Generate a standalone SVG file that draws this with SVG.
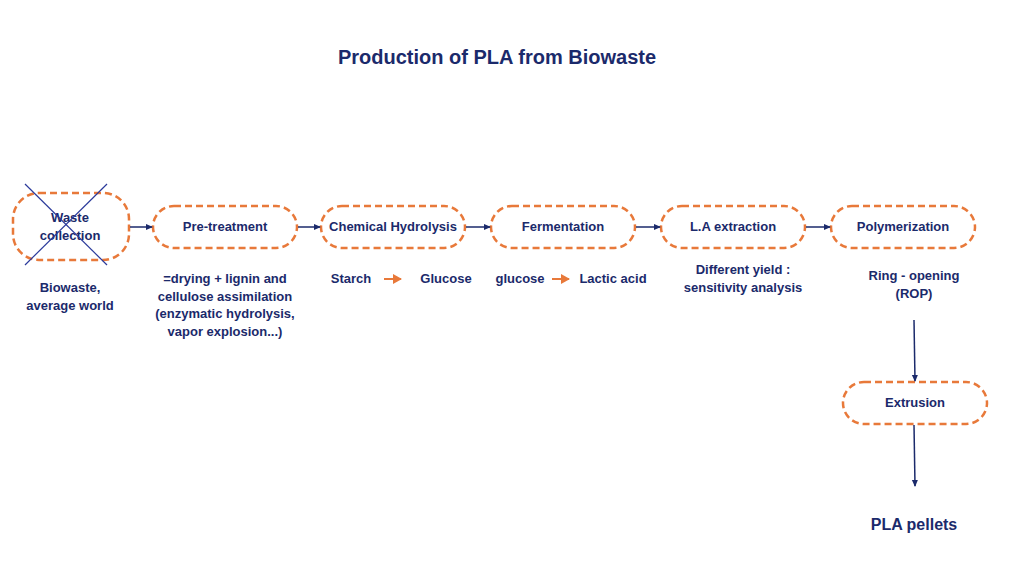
<svg xmlns="http://www.w3.org/2000/svg" width="1024" height="576" viewBox="0 0 1024 576">
<style>
.n{fill:none;stroke:#E8793A;stroke-width:2.5;stroke-dasharray:7 4}
text{font-family:"Liberation Sans",Arial,sans-serif;font-weight:bold;fill:#1B2A6B;text-anchor:middle}
.l{font-size:13px}
.c{stroke:#1B2A6B;stroke-width:1.5;fill:none}
.o{stroke:#E8793A;stroke-width:2;fill:none}
</style>
<defs>
<marker id="a" markerWidth="8" markerHeight="8" refX="6" refY="4" orient="auto" markerUnits="userSpaceOnUse"><path d="M0,1 L7,4 L0,7Z" fill="#1B2A6B"/></marker>
<marker id="b" markerWidth="10" markerHeight="10" refX="8" refY="5" orient="auto" markerUnits="userSpaceOnUse"><path d="M0,0 L9,5 L0,10Z" fill="#E8793A"/></marker>
</defs>
<rect width="1024" height="576" fill="#fff"/>
<text x="497" y="64" font-size="20">Production of PLA from Biowaste</text>
<g id="waste"><rect class="n" x="13" y="193" width="116" height="67" rx="26"/><text class="l" x="70" y="222">Waste</text><text class="l" x="70" y="240">collection</text>
<line x1="25" y1="184" x2="107" y2="265" stroke="#2B3A9B" stroke-width="1.2"/><line x1="107" y1="184" x2="25" y2="265" stroke="#2B3A9B" stroke-width="1.2"/></g>
<g id="pre"><rect class="n" x="153" y="206" width="144" height="42" rx="21"/><text class="l" x="225" y="231">Pre-treatment</text></g>
<g id="hyd"><rect class="n" x="321" y="206" width="144" height="42" rx="21"/><text class="l" x="393" y="231">Chemical Hydrolysis</text></g>
<g id="fer"><rect class="n" x="491" y="206" width="144" height="42" rx="21"/><text class="l" x="563" y="231">Fermentation</text></g>
<g id="la"><rect class="n" x="661" y="206" width="144" height="42" rx="21"/><text class="l" x="733" y="231">L.A extraction</text></g>
<g id="pol"><rect class="n" x="831" y="206" width="144" height="42" rx="21"/><text class="l" x="903" y="231">Polymerization</text></g>
<g id="ext"><rect class="n" x="843" y="382" width="144" height="42" rx="21"/><text class="l" x="915" y="407">Extrusion</text></g>
<g id="connectors">
<line class="c" x1="130" y1="227" x2="152" y2="227" marker-end="url(#a)"/>
<line class="c" x1="298" y1="227" x2="320" y2="227" marker-end="url(#a)"/>
<line class="c" x1="466" y1="227" x2="490" y2="227" marker-end="url(#a)"/>
<line class="c" x1="636" y1="227" x2="660" y2="227" marker-end="url(#a)"/>
<line class="c" x1="806" y1="227" x2="830" y2="227" marker-end="url(#a)"/>
<line class="c" x1="914" y1="320" x2="915" y2="381" marker-end="url(#a)"/>
<line class="c" x1="914" y1="425" x2="915" y2="486" marker-end="url(#a)"/>
<line class="o" x1="384" y1="279" x2="401" y2="279" marker-end="url(#b)"/>
<line class="o" x1="552" y1="279" x2="569" y2="279" marker-end="url(#b)"/>
</g>
<text class="l" x="70" y="292">Biowaste,</text><text class="l" x="70" y="310">average world</text>
<text class="l" x="225" y="283">=drying + lignin and</text><text class="l" x="225" y="301">cellulose assimilation</text><text class="l" x="225" y="318">(enzymatic hydrolysis,</text><text class="l" x="225" y="336">vapor explosion...)</text>
<text class="l" x="351" y="283">Starch</text><text class="l" x="446" y="283">Glucose</text>
<text class="l" x="520" y="283">glucose</text><text class="l" x="613" y="283">Lactic acid</text>
<text class="l" x="743" y="274">Different yield :</text><text class="l" x="743" y="292">sensitivity analysis</text>
<text class="l" x="914" y="280">Ring - opening</text><text class="l" x="914" y="298">(ROP)</text>
<text x="914" y="530" font-size="16">PLA pellets</text>
</svg>
